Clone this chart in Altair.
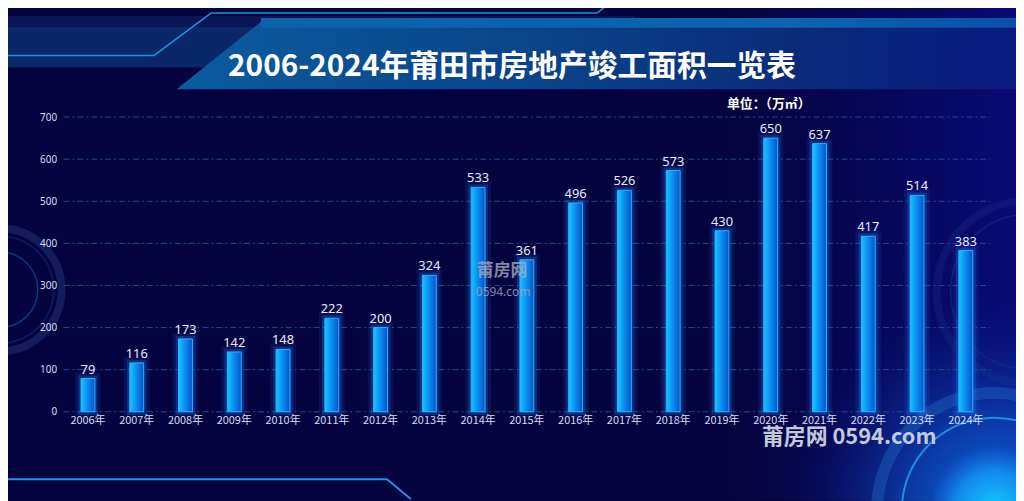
import altair as alt
import pandas as pd

years = ["2006年", "2007年", "2008年", "2009年", "2010年", "2011年", "2012年",
         "2013年", "2014年", "2015年", "2016年", "2017年", "2018年", "2019年",
         "2020年", "2021年", "2022年", "2023年", "2024年"]
area = [79, 116, 173, 142, 148, 222, 200, 324, 533, 361, 496, 526, 573, 430,
        650, 637, 417, 514, 383]
y_ticks = [0, 100, 200, 300, 400, 500, 600, 700]

title_text = "2006-2024年莆田市房地产竣工面积一览表"
unit_text = "单位：（万㎡）"

BG = "#05033f"
OX, OY = 64, 116  # plot origin on page


def px(x):
    return x - OX


def py(y):
    return y - OY


df = pd.DataFrame({"year": years, "area": area})
grid_df = pd.DataFrame({"area": y_ticks})
one = pd.DataFrame({"k": [0]})

W, H = 934, 297

# ---------- decorations ----------
def rect(x1, y1, x2, y2, **kw):
    return alt.Chart(one).mark_rect(**kw).encode(
        x=alt.value(px(x1)), x2=alt.value(px(x2)),
        y=alt.value(py(y1)), y2=alt.value(py(y2)))


def line(x1, y1, x2, y2, color="#1a94e0", w=1.5, op=1.0):
    return alt.Chart(one).mark_rule(color=color, strokeWidth=w, opacity=op).encode(
        x=alt.value(px(x1)), x2=alt.value(px(x2)),
        y=alt.value(py(y1)), y2=alt.value(py(y2)))


def ring(cx, cy, d, color, w, op=1.0):
    return alt.Chart(one).mark_point(
        shape="circle", size=d * d, filled=False, stroke=color,
        strokeWidth=w, opacity=op).encode(
        x=alt.value(px(cx)), y=alt.value(py(cy)))


def blob(cx, cy, d, stops):
    return alt.Chart(one).mark_point(
        shape="circle", size=d * d, filled=True, opacity=1, strokeWidth=0,
        fill=alt.Gradient(gradient="radial", stops=stops,
                          x1=0.5, y1=0.5, r1=0, x2=0.5, y2=0.5, r2=0.5)).encode(
        x=alt.value(px(cx)), y=alt.value(py(cy)))


GS = alt.GradientStop
decor = []
# right edge brightening
decor.append(rect(740, 0, 1024, 501, fill=alt.Gradient(
    gradient="linear", x1=0, y1=0, x2=1, y2=0,
    stops=[GS(color="rgba(10,16,140,0)", offset=0),
           GS(color="rgba(10,16,150,0.6)", offset=1)])))
# top-left band
decor.append(rect(0, 25, 260, 66, fill="#0a2868"))
decor.append(rect(0, 14, 640, 25, fill="#081c5a", opacity=0.8))
# banner trapezoid (custom symbol path)
S = 1024 - 178
cxb = (178 + 1024) / 2
cyb = 54
h = 34 / (S / 2)
xl = (263 - cxb) / (S / 2)
banner_path = f"M-1,{h:.4f} L{xl:.4f},{-h:.4f} L1,{-h:.4f} L1,{h:.4f} Z"
decor.append(alt.Chart(one).mark_point(
    shape=banner_path, size=S * S, filled=True, opacity=1, strokeWidth=0,
    fill=alt.Gradient(gradient="linear", x1=0, y1=0, x2=1, y2=0,
                      stops=[GS(color="#0b5c9e", offset=0),
                             GS(color="#0a4288", offset=0.45),
                             GS(color="#0a2a7a", offset=0.75),
                             GS(color="#0a1a80", offset=1)])).encode(
    x=alt.value(px(cxb)), y=alt.value(py(cyb))))
decor.append(rect(263, 16, 1024, 26, fill=alt.Gradient(
    gradient="linear", x1=0, y1=0, x2=1, y2=0,
    stops=[GS(color="#0b62a8", offset=0),
           GS(color="#0a64b0", offset=0.7),
           GS(color="#0a50a8", offset=1)])))
# circuit lines
decor += [
    line(0, 54, 155, 54), line(155, 54, 213, 11), line(213, 11, 602, 11),
    line(602, 11, 616, 0),
    line(0, 481, 390, 481, w=2), line(390, 481, 414, 501, w=2),
]
# left rings
decor += [
    ring(0, 290, 124, "#161f62", 8, 0.9),
    ring(0, 290, 108, "#141e66", 1.5, 0.9),
    ring(0, 290, 76, "#0b3c86", 1.5, 0.9),
]
# right rings
decor += [
    ring(1036, 292, 184, "#1a2a86", 8, 0.35),
    ring(1036, 292, 156, "#1c3c98", 1.5, 0.45),
]
# bottom-right glow
decor += [
    blob(1005, 512, 440, [GS(color="rgba(14,125,235,0.95)", offset=0),
                          GS(color="rgba(12,80,200,0.6)", offset=0.45),
                          GS(color="rgba(8,20,120,0)", offset=1)]),
    ring(1002, 512, 236, "#2a7fd8", 12, 0.3),
    ring(1002, 512, 186, "#22b0f5", 2, 0.75),
    blob(1002, 512, 130, [GS(color="rgba(20,205,255,1)", offset=0),
                          GS(color="rgba(20,160,250,0.7)", offset=0.6),
                          GS(color="rgba(20,120,240,0)", offset=1)]),
]

# ---------- chart ----------
x_enc = alt.X("year:N", sort=None, title=None,
              scale=alt.Scale(paddingInner=0.0, paddingOuter=0.0),
              axis=alt.Axis(labelAngle=0, labelColor="#d6dcf0", labelFontSize=11,
                            labelFont="Noto Sans CJK SC", labelPadding=3,
                            domain=False, ticks=False, grid=False, zindex=1))
y_scale = alt.Scale(domain=[0, 700], nice=False)
y_axis = alt.Axis(values=y_ticks, labelColor="#d6dcf0", labelFontSize=10,
                  labelFont="Noto Sans", labelPadding=7,
                  domain=False, ticks=False, grid=False, zindex=1)
y_enc = alt.Y("area:Q", title=None, scale=y_scale, axis=y_axis)

grid = alt.Chart(grid_df).mark_rule(
    color="#1d4c8c", strokeWidth=1, strokeDash=[6, 3, 2, 3]).encode(
    y=alt.Y("area:Q", title=None, scale=y_scale, axis=y_axis),
    x=alt.value(0), x2=alt.value(W))

base = alt.Chart(df)

glow1 = base.mark_bar(width=14, fillOpacity=0, stroke="#1f70ff",
                      strokeWidth=12, strokeOpacity=0.12).encode(x=x_enc, y=y_enc)
glow2 = base.mark_bar(width=14, fillOpacity=0, stroke="#2a8cff",
                      strokeWidth=6, strokeOpacity=0.22).encode(x=x_enc, y=y_enc)
bars = base.mark_bar(
    width=14, stroke="#28b4ff", strokeWidth=1,
    fill=alt.Gradient(gradient="linear", x1=0, y1=0, x2=1, y2=0,
                      stops=[GS(color="#16c6ff", offset=0),
                             GS(color="#0a90f0", offset=0.45),
                             GS(color="#0a52c8", offset=1)])
).encode(x=x_enc, y=y_enc)
labels = base.mark_text(dy=-9, fontSize=13, color="#e6ebff",
                        font="Noto Sans").encode(
    x=x_enc, y=y_enc, text=alt.Text("area:Q"))

title = alt.Chart(one).mark_text(
    text=title_text, font="Noto Sans CJK SC", fontWeight="bold", fontSize=30,
    color="#ffffff", align="center", baseline="middle").encode(
    x=alt.value(px(516)), y=alt.value(py(66)))
unit = alt.Chart(one).mark_text(
    text=unit_text, font="Noto Sans CJK SC", fontWeight="bold", fontSize=13,
    color="#ffffff", align="right", baseline="middle").encode(
    x=alt.value(px(817)), y=alt.value(py(103)))
wm1 = alt.Chart(one).mark_text(
    text="莆房网", font="Noto Sans CJK SC", fontWeight="bold", fontSize=17,
    color="#a4a8c0", opacity=0.8, align="center", baseline="middle").encode(
    x=alt.value(px(506)), y=alt.value(py(271)))
wm2 = alt.Chart(one).mark_text(
    text="0594.com", font="Noto Sans", fontSize=12,
    color="#a4a8c0", opacity=0.8, align="center", baseline="middle").encode(
    x=alt.value(px(507)), y=alt.value(py(292)))
wm3 = alt.Chart(one).mark_text(
    text="莆房网 0594.com", font="Noto Sans CJK SC", fontWeight="bold", fontSize=22,
    color="#c4c8dc", align="left", baseline="middle").encode(
    x=alt.value(px(768)), y=alt.value(py(438)))

chart = alt.layer(
    *decor, grid, glow1, glow2, bars, labels, title, unit, wm1, wm2, wm3
).properties(
    width=W, height=H, autosize="none",
    padding={"left": 56, "top": 108, "right": 26, "bottom": 88},
    background=BG,
).configure_view(stroke=None)

chart.save("out.html", embed_options={"renderer": "svg", "actions": False})
